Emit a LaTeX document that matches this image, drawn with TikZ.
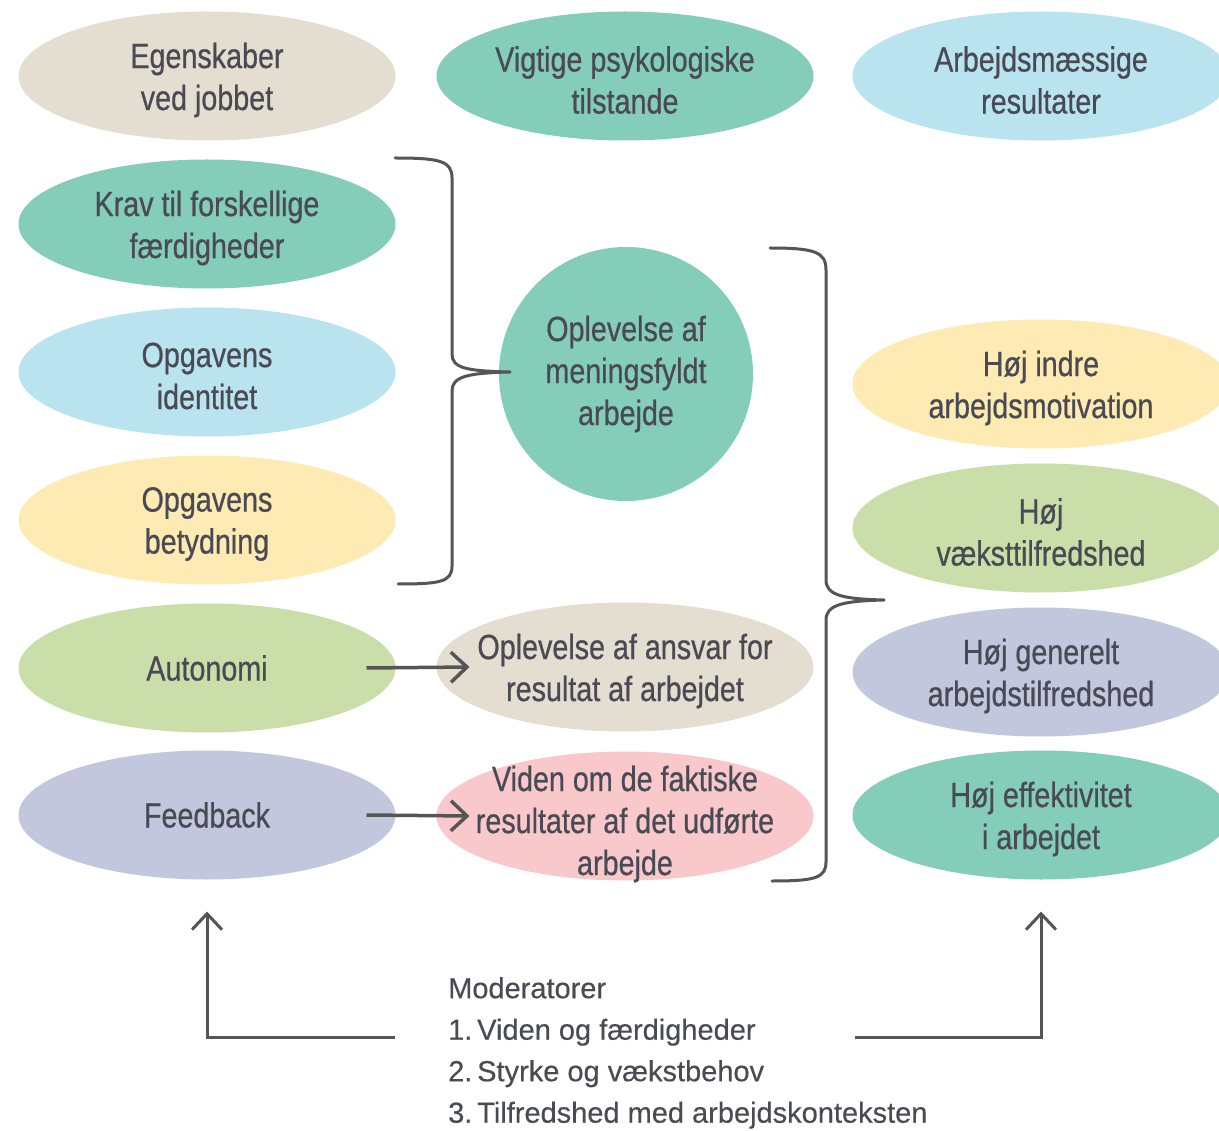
\documentclass[tikz,border=0pt]{standalone}
\usepackage{fontspec}
\setmainfont[FakeStretch=0.82,FakeBold=0.6]{Liberation Sans}
\newfontfamily\modfont[FakeStretch=1.0,FakeBold=0.3]{Liberation Sans}
\usetikzlibrary{shapes.geometric,arrows.meta}

\definecolor{ink}{HTML}{4A4A54}
\definecolor{linegray}{HTML}{555555}
\definecolor{cbeige}{HTML}{E3DED0}
\definecolor{cteal}{HTML}{84CDB9}
\definecolor{cblue}{HTML}{B9E3EF}
\definecolor{cyellow}{HTML}{FEEBB3}
\definecolor{cgreen}{HTML}{C9DEA8}
\definecolor{clavender}{HTML}{C2C7DD}
\definecolor{cpink}{HTML}{F8C8CB}

\begin{document}
\begin{tikzpicture}[x=1pt,y=-1pt,
  blob/.style={ellipse, minimum width=377pt, minimum height=129pt,
               inner sep=0pt, outer sep=0pt, draw=none, fill=#1},
  txt/.style={text=ink, align=center, inner sep=0pt,
              font=\fontsize{35}{42}\selectfont},
  two/.style={txt, yshift=-4pt},
  three/.style={txt, yshift=-8pt},
  brace/.style={draw=linegray, line width=3pt, line cap=round, line join=round},
  conn/.style={draw=linegray, line width=3.5pt,
               -{Straight Barb[length=16pt,width=30pt]}}]

\clip (0,0) rectangle (1219,1131);
\fill[white] (0,0) rectangle (1219,1131);

% column headings
\node[blob=cbeige, label={[two]center:Egenskaber\\ved jobbet}] (egen) at (207,76) {};
\node[blob=cteal, label={[two]center:Vigtige psykologiske\\tilstande}] (tilst) at (625,76) {};
\node[blob=cblue, label={[two]center:Arbejdsmæssige\\resultater}] (resul) at (1041,76) {};

% job characteristics
\node[blob=cteal, label={[two]center:Krav til forskellige\\færdigheder}] (krav) at (207,224) {};
\node[blob=cblue, label={[two]center:Opgavens\\identitet}] (ident) at (207,372) {};
\node[blob=cyellow, label={[two]center:Opgavens\\betydning}] (betyd) at (207,520) {};
\node[blob=cgreen, label={[txt]center:Autonomi}] (auto) at (207,668) {};
\node[blob=clavender, label={[txt]center:Feedback}] (feed) at (207,815) {};

% psychological states
\node[circle, minimum size=254pt, inner sep=0pt, outer sep=0pt, fill=cteal,
      label={[txt]center:Oplevelse af\\meningsfyldt\\arbejde}] (mean) at (626,374) {};
\node[blob=cbeige, label={[two]center:Oplevelse af ansvar for\\resultat af arbejdet}] (ansvar) at (625,667) {};
\node[blob=cpink, label={[three]center:Viden om de faktiske\\resultater af det udførte\\arbejde}] (viden) at (625,816) {};

% outcomes
\node[blob=cyellow, label={[two]center:Høj indre\\arbejdsmotivation}] (indre) at (1041,384) {};
\node[blob=cgreen, label={[two]center:Høj\\væksttilfredshed}] (vaekst) at (1041,528) {};
\node[blob=clavender, label={[two]center:Høj generelt\\arbejdstilfredshed}] (gener) at (1041,672) {};
\node[blob=cteal, label={[two]center:Høj effektivitet\\i arbejdet}] (eff) at (1041,815) {};

% brace grouping the first three characteristics
\draw[brace] (395,158) .. controls (440,158) and (452,161) .. (452,178)
  -- (452,354) .. controls (452,368) and (466,371) .. (510,372)
  .. controls (466,373) and (452,377) .. (452,391)
  -- (452,566) .. controls (452,582) and (440,584) .. (398,584);

% brace grouping the three psychological states
\draw[brace] (770,248) .. controls (815,248) and (826,252) .. (826,270)
  -- (826,580) .. controls (826,595) and (842,599) .. (884,600)
  .. controls (842,601) and (826,605) .. (826,620)
  -- (826,862) .. controls (826,878) and (815,881) .. (772,881);

% characteristic -> state arrows
\draw[conn] ([xshift=-29pt]auto.east) -- ([xshift=33pt]ansvar.west);
\draw[conn] ([xshift=-29pt]feed.east) -- ([xshift=33pt]viden.west);

% moderators
\node[anchor=north west, align=left, inner sep=0pt, text=ink,
      font=\modfont\fontsize{29}{41.5}\selectfont] (mod) at (448,977)
  {Moderatorer\\1.\,Viden og færdigheder\\2.\,Styrke og vækstbehov\\3.\,Tilfredshed med arbejdskonteksten};
\coordinate (modl) at (395,1037);
\coordinate (modr) at (855,1037);
\draw[conn, line width=3pt] (modl) -| ([yshift=-32pt]feed.south);
\draw[conn, line width=3pt] (modr) -| ([yshift=-32pt]eff.south);

\end{tikzpicture}
\end{document}
